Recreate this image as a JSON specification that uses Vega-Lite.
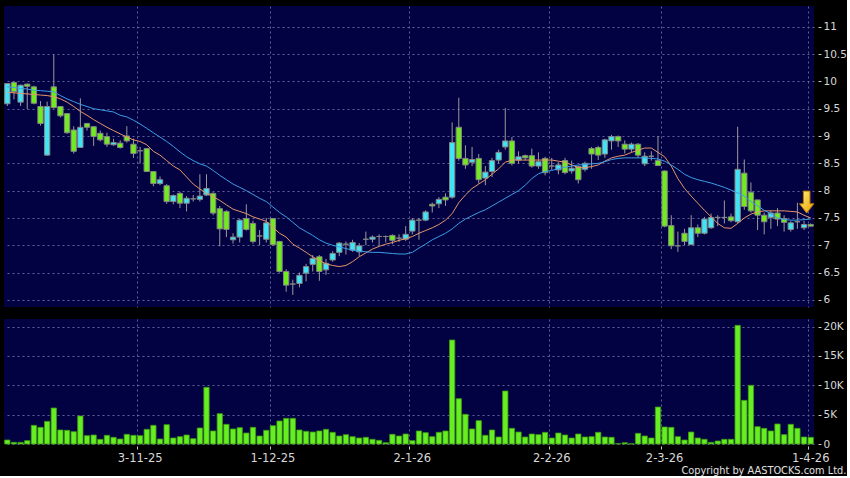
{
"$schema":"https://vega.github.io/schema/vega-lite/v6.json",
"background":"#000000",
"padding":{"left":4,"top":6,"right":0,"bottom":0},
"config":{
"view":{"fill":"#020242","stroke":null},
"axis":{"labelFont":"DejaVu Sans","labelColor":"#d8d8d8","tickColor":"#c8c8c8","gridColor":"#60609a","gridDash":[2,3],"gridWidth":1,"domain":false,"labelOverlap":false},
"concat":{"spacing":12}
},
"title":{"text":"Copyright by AASTOCKS.com Ltd.","orient":"bottom","anchor":"end","font":"DejaVu Sans","fontSize":9.8,"fontWeight":"normal","color":"#e0e0e0","offset":2},
"datasets":{
"k":[
{"d":"2025-10-02","o":9.59,"h":9.97,"l":9.55,"c":9.96,"v":680,"m1":9.80,"m2":9.90},
{"d":"2025-10-03","o":9.98,"h":10.0,"l":9.67,"c":9.81,"v":280,"m1":9.79,"m2":9.89},
{"d":"2025-10-06","o":9.62,"h":9.94,"l":9.55,"c":9.93,"v":280,"m1":9.78,"m2":9.87},
{"d":"2025-10-08","o":9.95,"h":9.96,"l":9.49,"c":9.91,"v":570,"m1":9.77,"m2":9.86},
{"d":"2025-10-09","o":9.90,"h":9.92,"l":9.58,"c":9.60,"v":3180,"m1":9.76,"m2":9.84},
{"d":"2025-10-10","o":9.54,"h":9.64,"l":9.19,"c":9.23,"v":2840,"m1":9.75,"m2":9.83},
{"d":"2025-10-13","o":8.65,"h":9.63,"l":8.64,"c":9.54,"v":3860,"m1":9.74,"m2":9.82},
{"d":"2025-10-14","o":9.90,"h":10.49,"l":9.50,"c":9.52,"v":6130,"m1":9.72,"m2":9.81},
{"d":"2025-10-15","o":9.54,"h":9.55,"l":9.34,"c":9.37,"v":2390,"m1":9.68,"m2":9.74},
{"d":"2025-10-16","o":9.41,"h":9.42,"l":9.04,"c":9.06,"v":2330,"m1":9.62,"m2":9.68},
{"d":"2025-10-17","o":9.11,"h":9.18,"l":8.68,"c":8.72,"v":2100,"m1":9.54,"m2":9.63},
{"d":"2025-10-20","o":8.79,"h":9.69,"l":8.78,"c":9.16,"v":4770,"m1":9.45,"m2":9.58},
{"d":"2025-10-21","o":9.23,"h":9.24,"l":9.10,"c":9.16,"v":1420,"m1":9.38,"m2":9.54},
{"d":"2025-10-22","o":9.17,"h":9.18,"l":8.82,"c":8.99,"v":1530,"m1":9.30,"m2":9.50},
{"d":"2025-10-23","o":9.05,"h":9.10,"l":8.90,"c":8.93,"v":800,"m1":9.23,"m2":9.48},
{"d":"2025-10-24","o":8.99,"h":9.06,"l":8.80,"c":8.85,"v":1480,"m1":9.16,"m2":9.46},
{"d":"2025-10-27","o":8.84,"h":8.95,"l":8.82,"c":8.88,"v":1140,"m1":9.10,"m2":9.44},
{"d":"2025-10-28","o":8.87,"h":8.92,"l":8.77,"c":8.79,"v":850,"m1":9.04,"m2":9.38},
{"d":"2025-10-30","o":9.00,"h":9.18,"l":8.88,"c":8.91,"v":1650,"m1":8.98,"m2":9.35},
{"d":"2025-10-31","o":8.85,"h":8.95,"l":8.60,"c":8.68,"v":1480,"m1":8.93,"m2":9.29},
{"d":"2025-11-03","o":8.73,"h":8.80,"l":8.50,"c":8.73,"v":1420,"m1":8.90,"m2":9.22},
{"d":"2025-11-04","o":8.77,"h":8.78,"l":8.34,"c":8.35,"v":2500,"m1":8.84,"m2":9.14},
{"d":"2025-11-05","o":8.35,"h":8.36,"l":8.08,"c":8.13,"v":3180,"m1":8.72,"m2":9.06},
{"d":"2025-11-06","o":8.13,"h":8.26,"l":8.10,"c":8.20,"v":850,"m1":8.65,"m2":8.98},
{"d":"2025-11-07","o":8.09,"h":8.12,"l":7.76,"c":7.80,"v":3290,"m1":8.55,"m2":8.90},
{"d":"2025-11-10","o":7.80,"h":7.93,"l":7.75,"c":7.91,"v":1020,"m1":8.45,"m2":8.81},
{"d":"2025-11-11","o":7.95,"h":7.98,"l":7.68,"c":7.77,"v":1250,"m1":8.38,"m2":8.71},
{"d":"2025-11-12","o":7.77,"h":7.90,"l":7.62,"c":7.86,"v":1530,"m1":8.25,"m2":8.62},
{"d":"2025-11-13","o":7.85,"h":7.92,"l":7.80,"c":7.85,"v":910,"m1":8.12,"m2":8.55},
{"d":"2025-11-14","o":7.84,"h":8.30,"l":7.80,"c":7.90,"v":2730,"m1":8.03,"m2":8.49},
{"d":"2025-11-17","o":7.92,"h":8.30,"l":7.90,"c":8.04,"v":9660,"m1":7.95,"m2":8.45},
{"d":"2025-11-18","o":7.95,"h":7.97,"l":7.55,"c":7.59,"v":2220,"m1":7.89,"m2":8.37},
{"d":"2025-11-19","o":7.67,"h":7.72,"l":6.98,"c":7.30,"v":5170,"m1":7.82,"m2":8.28},
{"d":"2025-11-20","o":7.62,"h":7.64,"l":7.15,"c":7.29,"v":3350,"m1":7.74,"m2":8.20},
{"d":"2025-11-21","o":7.10,"h":7.22,"l":7.03,"c":7.15,"v":2560,"m1":7.66,"m2":8.12},
{"d":"2025-11-24","o":7.15,"h":7.48,"l":7.05,"c":7.46,"v":2780,"m1":7.62,"m2":8.06},
{"d":"2025-11-25","o":7.49,"h":7.75,"l":7.27,"c":7.29,"v":1870,"m1":7.58,"m2":8.00},
{"d":"2025-11-26","o":7.40,"h":7.45,"l":7.03,"c":7.07,"v":2840,"m1":7.52,"m2":7.93},
{"d":"2025-11-27","o":7.17,"h":7.28,"l":7.00,"c":7.17,"v":1360,"m1":7.48,"m2":7.86},
{"d":"2025-11-28","o":7.11,"h":7.50,"l":7.05,"c":7.41,"v":2330,"m1":7.44,"m2":7.80},
{"d":"2025-12-01","o":7.49,"h":7.50,"l":6.99,"c":7.01,"v":3120,"m1":7.33,"m2":7.70},
{"d":"2025-12-02","o":7.07,"h":7.08,"l":6.50,"c":6.52,"v":3920,"m1":7.22,"m2":7.60},
{"d":"2025-12-03","o":6.52,"h":6.56,"l":6.15,"c":6.27,"v":4370,"m1":7.15,"m2":7.52},
{"d":"2025-12-04","o":6.29,"h":6.37,"l":6.09,"c":6.29,"v":4370,"m1":7.02,"m2":7.42},
{"d":"2025-12-05","o":6.30,"h":6.50,"l":6.23,"c":6.45,"v":2390,"m1":6.95,"m2":7.32},
{"d":"2025-12-08","o":6.49,"h":6.66,"l":6.34,"c":6.61,"v":2160,"m1":6.87,"m2":7.25},
{"d":"2025-12-09","o":6.65,"h":6.82,"l":6.52,"c":6.76,"v":2040,"m1":6.79,"m2":7.18},
{"d":"2025-12-10","o":6.79,"h":6.82,"l":6.35,"c":6.52,"v":2220,"m1":6.72,"m2":7.10},
{"d":"2025-12-11","o":6.55,"h":6.75,"l":6.46,"c":6.67,"v":2500,"m1":6.66,"m2":7.04},
{"d":"2025-12-12","o":6.73,"h":6.89,"l":6.70,"c":6.85,"v":1990,"m1":6.63,"m2":7.00},
{"d":"2025-12-15","o":6.87,"h":7.06,"l":6.80,"c":7.04,"v":1360,"m1":6.61,"m2":6.97},
{"d":"2025-12-16","o":7.02,"h":7.07,"l":6.83,"c":7.02,"v":1590,"m1":6.63,"m2":6.94},
{"d":"2025-12-17","o":6.91,"h":7.10,"l":6.88,"c":7.05,"v":1250,"m1":6.70,"m2":6.91},
{"d":"2025-12-18","o":6.88,"h":7.04,"l":6.80,"c":6.99,"v":1020,"m1":6.79,"m2":6.89},
{"d":"2025-12-19","o":7.11,"h":7.25,"l":7.00,"c":7.11,"v":1140,"m1":6.86,"m2":6.88},
{"d":"2025-12-22","o":7.11,"h":7.18,"l":7.05,"c":7.15,"v":800,"m1":6.93,"m2":6.87},
{"d":"2025-12-23","o":7.16,"h":7.20,"l":7.00,"c":7.16,"v":620,"m1":6.98,"m2":6.87},
{"d":"2025-12-24","o":7.16,"h":7.18,"l":7.05,"c":7.16,"v":230,"m1":7.02,"m2":6.86},
{"d":"2025-12-29","o":7.18,"h":7.20,"l":7.02,"c":7.09,"v":1650,"m1":7.05,"m2":6.85},
{"d":"2025-12-30","o":7.13,"h":7.20,"l":7.06,"c":7.13,"v":1360,"m1":7.09,"m2":6.84},
{"d":"2025-12-31","o":7.11,"h":7.35,"l":7.08,"c":7.20,"v":1700,"m1":7.12,"m2":6.84},
{"d":"2026-01-02","o":7.26,"h":7.50,"l":7.20,"c":7.46,"v":570,"m1":7.16,"m2":6.87},
{"d":"2026-01-05","o":7.46,"h":7.50,"l":7.10,"c":7.46,"v":2220,"m1":7.22,"m2":6.95},
{"d":"2026-01-06","o":7.46,"h":7.64,"l":7.44,"c":7.61,"v":1930,"m1":7.27,"m2":7.02},
{"d":"2026-01-07","o":7.75,"h":7.78,"l":7.60,"c":7.72,"v":1250,"m1":7.32,"m2":7.10},
{"d":"2026-01-08","o":7.76,"h":7.88,"l":7.68,"c":7.84,"v":1990,"m1":7.38,"m2":7.16},
{"d":"2026-01-09","o":7.88,"h":7.95,"l":7.72,"c":7.83,"v":2220,"m1":7.46,"m2":7.22},
{"d":"2026-01-12","o":7.88,"h":9.25,"l":7.85,"c":8.88,"v":17720,"m1":7.58,"m2":7.30},
{"d":"2026-01-13","o":9.16,"h":9.70,"l":8.55,"c":8.59,"v":7720,"m1":7.78,"m2":7.40},
{"d":"2026-01-14","o":8.59,"h":8.83,"l":8.40,"c":8.47,"v":5060,"m1":7.92,"m2":7.48},
{"d":"2026-01-15","o":8.52,"h":8.80,"l":8.45,"c":8.57,"v":2560,"m1":8.04,"m2":7.54},
{"d":"2026-01-16","o":8.59,"h":8.67,"l":8.13,"c":8.20,"v":3980,"m1":8.12,"m2":7.60},
{"d":"2026-01-19","o":8.23,"h":8.45,"l":8.10,"c":8.34,"v":1480,"m1":8.20,"m2":7.65},
{"d":"2026-01-20","o":8.35,"h":8.60,"l":8.25,"c":8.55,"v":2390,"m1":8.30,"m2":7.72},
{"d":"2026-01-21","o":8.56,"h":8.75,"l":8.50,"c":8.70,"v":1190,"m1":8.40,"m2":7.79},
{"d":"2026-01-22","o":8.80,"h":9.51,"l":8.75,"c":8.91,"v":9030,"m1":8.52,"m2":7.86},
{"d":"2026-01-23","o":8.91,"h":8.98,"l":8.46,"c":8.50,"v":2670,"m1":8.56,"m2":7.93},
{"d":"2026-01-26","o":8.56,"h":8.72,"l":8.50,"c":8.62,"v":2040,"m1":8.56,"m2":8.00},
{"d":"2026-01-27","o":8.64,"h":8.66,"l":8.55,"c":8.60,"v":1190,"m1":8.56,"m2":8.10},
{"d":"2026-01-28","o":8.64,"h":8.77,"l":8.42,"c":8.45,"v":1700,"m1":8.56,"m2":8.22},
{"d":"2026-01-29","o":8.45,"h":8.70,"l":8.40,"c":8.53,"v":1590,"m1":8.56,"m2":8.31},
{"d":"2026-01-30","o":8.59,"h":8.62,"l":8.28,"c":8.33,"v":1990,"m1":8.56,"m2":8.35},
{"d":"2026-02-02","o":8.45,"h":8.60,"l":8.38,"c":8.45,"v":1020,"m1":8.56,"m2":8.37},
{"d":"2026-02-03","o":8.38,"h":8.52,"l":8.30,"c":8.47,"v":1870,"m1":8.54,"m2":8.40},
{"d":"2026-02-04","o":8.55,"h":8.60,"l":8.30,"c":8.33,"v":1530,"m1":8.52,"m2":8.43},
{"d":"2026-02-05","o":8.36,"h":8.55,"l":8.31,"c":8.41,"v":1020,"m1":8.47,"m2":8.45},
{"d":"2026-02-06","o":8.44,"h":8.46,"l":8.13,"c":8.20,"v":1700,"m1":8.42,"m2":8.47},
{"d":"2026-02-09","o":8.39,"h":8.53,"l":8.35,"c":8.50,"v":1190,"m1":8.42,"m2":8.48},
{"d":"2026-02-10","o":8.77,"h":8.80,"l":8.40,"c":8.67,"v":1250,"m1":8.44,"m2":8.49},
{"d":"2026-02-11","o":8.79,"h":8.82,"l":8.56,"c":8.65,"v":1990,"m1":8.47,"m2":8.50},
{"d":"2026-02-12","o":8.67,"h":8.95,"l":8.60,"c":8.93,"v":1190,"m1":8.54,"m2":8.53},
{"d":"2026-02-13","o":8.91,"h":9.02,"l":8.75,"c":8.99,"v":1150,"m1":8.60,"m2":8.57},
{"d":"2026-02-16","o":8.99,"h":9.01,"l":8.80,"c":8.91,"v":60,"m1":8.63,"m2":8.59},
{"d":"2026-02-20","o":8.85,"h":8.92,"l":8.68,"c":8.76,"v":220,"m1":8.65,"m2":8.60},
{"d":"2026-02-23","o":8.76,"h":8.88,"l":8.70,"c":8.85,"v":40,"m1":8.70,"m2":8.60},
{"d":"2026-02-24","o":8.85,"h":8.87,"l":8.60,"c":8.65,"v":1820,"m1":8.74,"m2":8.60},
{"d":"2026-02-25","o":8.49,"h":8.70,"l":8.45,"c":8.63,"v":1360,"m1":8.78,"m2":8.60},
{"d":"2026-02-26","o":8.63,"h":8.72,"l":8.55,"c":8.63,"v":1020,"m1":8.78,"m2":8.59},
{"d":"2026-02-27","o":8.55,"h":9.00,"l":8.45,"c":8.46,"v":6300,"m1":8.70,"m2":8.58},
{"d":"2026-03-02","o":8.36,"h":8.37,"l":7.33,"c":7.35,"v":2900,"m1":8.62,"m2":8.54},
{"d":"2026-03-03","o":7.36,"h":7.55,"l":6.93,"c":6.99,"v":2840,"m1":8.45,"m2":8.47},
{"d":"2026-03-04","o":6.99,"h":7.25,"l":6.88,"c":6.99,"v":1250,"m1":8.22,"m2":8.39},
{"d":"2026-03-05","o":7.22,"h":7.30,"l":7.00,"c":7.07,"v":680,"m1":8.04,"m2":8.30},
{"d":"2026-03-06","o":7.01,"h":7.55,"l":7.01,"c":7.32,"v":2040,"m1":7.90,"m2":8.24},
{"d":"2026-03-09","o":7.32,"h":7.38,"l":7.15,"c":7.22,"v":1020,"m1":7.77,"m2":8.20},
{"d":"2026-03-10","o":7.22,"h":7.52,"l":7.20,"c":7.48,"v":800,"m1":7.64,"m2":8.17},
{"d":"2026-03-11","o":7.32,"h":7.58,"l":7.30,"c":7.51,"v":280,"m1":7.52,"m2":8.14},
{"d":"2026-03-12","o":7.51,"h":7.55,"l":7.35,"c":7.51,"v":510,"m1":7.40,"m2":8.10},
{"d":"2026-03-13","o":7.51,"h":7.82,"l":7.40,"c":7.51,"v":800,"m1":7.32,"m2":8.06},
{"d":"2026-03-16","o":7.52,"h":7.58,"l":7.42,"c":7.45,"v":800,"m1":7.31,"m2":8.01},
{"d":"2026-03-17","o":7.43,"h":9.17,"l":7.40,"c":8.39,"v":20220,"m1":7.40,"m2":7.96},
{"d":"2026-03-18","o":8.32,"h":8.57,"l":7.65,"c":7.71,"v":7440,"m1":7.50,"m2":7.90},
{"d":"2026-03-19","o":7.97,"h":8.15,"l":7.60,"c":7.63,"v":10000,"m1":7.57,"m2":7.80},
{"d":"2026-03-20","o":7.83,"h":7.83,"l":7.28,"c":7.55,"v":2950,"m1":7.61,"m2":7.72},
{"d":"2026-03-23","o":7.55,"h":7.60,"l":7.20,"c":7.43,"v":2670,"m1":7.63,"m2":7.64},
{"d":"2026-03-24","o":7.51,"h":7.64,"l":7.30,"c":7.59,"v":2220,"m1":7.63,"m2":7.58},
{"d":"2026-03-25","o":7.59,"h":7.68,"l":7.35,"c":7.48,"v":3410,"m1":7.63,"m2":7.50},
{"d":"2026-03-26","o":7.49,"h":7.55,"l":7.25,"c":7.42,"v":1590,"m1":7.63,"m2":7.47},
{"d":"2026-03-27","o":7.29,"h":7.44,"l":7.25,"c":7.41,"v":3350,"m1":7.62,"m2":7.46},
{"d":"2026-03-30","o":7.43,"h":7.78,"l":7.30,"c":7.43,"v":2670,"m1":7.61,"m2":7.46},
{"d":"2026-03-31","o":7.32,"h":7.45,"l":7.28,"c":7.38,"v":1190,"m1":7.55,"m2":7.47},
{"d":"2026-04-01","o":7.38,"h":7.40,"l":7.34,"c":7.35,"v":1140,"m1":7.50,"m2":7.48}
],
"arrow":[{"d":"2026-04-01","y":7.79}]
},
"vconcat":[
{
"width":810,"height":301,
"encoding":{"x":{"field":"d","type":"ordinal","title":null,"scale":{"paddingInner":0.2,"paddingOuter":0.1},
"axis":{"values":["2025-11-03","2025-12-01","2026-01-02","2026-02-02","2026-03-02","2026-04-01"],"bandPosition":0,"labels":false,"ticks":false,"grid":true}}},
"layer":[
{"data":{"name":"k"},"mark":{"type":"rule","color":"#9a9a9a","strokeWidth":1},
"encoding":{"y":{"field":"l","type":"quantitative","title":null,"scale":{"domain":[5.87,11.38],"nice":false,"zero":false},
"axis":{"orient":"right","values":[6,6.5,7,7.5,8,8.5,9,9.5,10,10.5,11],"format":"~g","offset":4,"tickSize":3,"labelPadding":2,"labelFontSize":10.5,"grid":true,"labelOverlap":false}},
"y2":{"field":"h"}}},
{"data":{"name":"k"},"mark":{"type":"bar","stroke":"#858585","strokeWidth":1},
"encoding":{"y":{"field":"o","type":"quantitative","title":null,"scale":{"domain":[5.87,11.38],"nice":false,"zero":false},
"axis":{"orient":"right","values":[6,6.5,7,7.5,8,8.5,9,9.5,10,10.5,11],"format":"~g","offset":4,"tickSize":3,"labelPadding":2,"labelFontSize":10.5,"grid":true,"labelOverlap":false}},"y2":{"field":"c"},
"fill":{"condition":{"test":"datum.c > datum.o","value":"#40e4f4"},"value":"#72ea20"}}},
{"data":{"name":"k"},"mark":{"type":"line","color":"#e8956a","strokeWidth":1},
"encoding":{"y":{"field":"m1","type":"quantitative","title":null,"scale":{"domain":[5.87,11.38],"nice":false,"zero":false},
"axis":{"orient":"right","values":[6,6.5,7,7.5,8,8.5,9,9.5,10,10.5,11],"format":"~g","offset":4,"tickSize":3,"labelPadding":2,"labelFontSize":10.5,"grid":true,"labelOverlap":false}}}},
{"data":{"name":"k"},"mark":{"type":"line","color":"#3d9de6","strokeWidth":1},
"encoding":{"y":{"field":"m2","type":"quantitative","title":null,"scale":{"domain":[5.87,11.38],"nice":false,"zero":false},
"axis":{"orient":"right","values":[6,6.5,7,7.5,8,8.5,9,9.5,10,10.5,11],"format":"~g","offset":4,"tickSize":3,"labelPadding":2,"labelFontSize":10.5,"grid":true,"labelOverlap":false}}}},
{"data":{"name":"arrow"},"mark":{"type":"point","shape":"M-0.3,-1L0.3,-1L0.3,0.15L0.65,0.15L0,1L-0.65,0.15L-0.3,0.15Z","size":484,"filled":true,"opacity":1,"xOffset":-4,
"fill":{"gradient":"linear","x1":0,"y1":0,"x2":1,"y2":1,"stops":[{"offset":0,"color":"#fff07a"},{"offset":1,"color":"#e8a000"}]},"stroke":"#b87800","strokeWidth":1},
"encoding":{"y":{"field":"y","type":"quantitative","title":null,"scale":{"domain":[5.87,11.38],"nice":false,"zero":false},
"axis":{"orient":"right","values":[6,6.5,7,7.5,8,8.5,9,9.5,10,10.5,11],"format":"~g","offset":4,"tickSize":3,"labelPadding":2,"labelFontSize":10.5,"grid":true,"labelOverlap":false}}}}
]
},
{
"width":810,"height":125,
"data":{"name":"k"},
"mark":{"type":"bar","fill":"#66ee22","stroke":"#3f9a12","strokeWidth":0.8},
"encoding":{
"x":{"field":"d","type":"ordinal","title":null,"scale":{"paddingInner":0.2,"paddingOuter":0.1},
"axis":{"values":["2025-11-03","2025-12-01","2026-01-02","2026-02-02","2026-03-02","2026-04-01"],"bandPosition":0,"grid":true,"ticks":true,"tickSize":3,"offset":2,"labelPadding":3,"labelFontSize":11.5,"labelAngle":0,"labelOverlap":false,
"labelExpr":"toNumber(slice(datum.value,8,10)) + '-' + toNumber(slice(datum.value,5,7)) + '-' + slice(datum.value,2,4)"}},
"y":{"field":"v","type":"quantitative","title":null,"scale":{"domain":[0,21300],"nice":false},
"axis":{"orient":"right","values":[0,5000,10000,15000,20000],"labelExpr":"datum.value == 0 ? '0' : (datum.value/1000) + 'K'","offset":4,"tickSize":3,"labelPadding":2,"labelFontSize":10.5,"grid":true,"labelOverlap":false}}
}
}
]
}
